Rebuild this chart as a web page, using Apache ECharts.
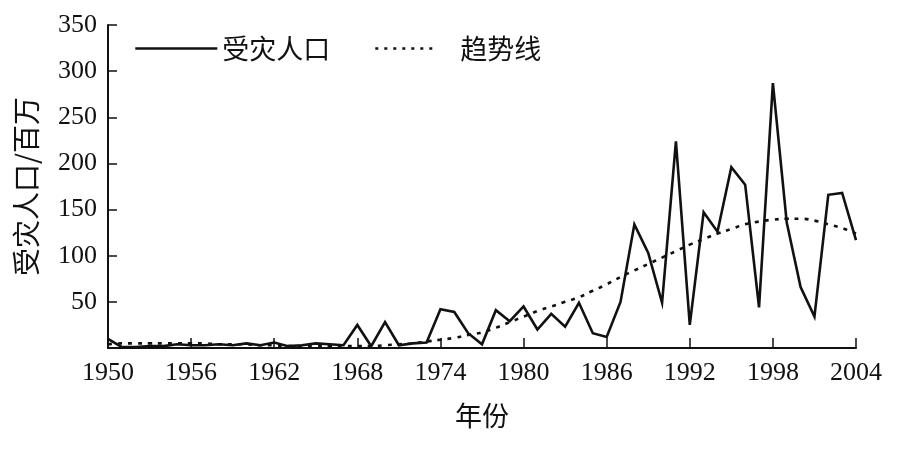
<!DOCTYPE html>
<html>
<head>
<meta charset="utf-8">
<script src="https://cdn.jsdelivr.net/npm/echarts@6/dist/echarts.min.js"></script>
<style>
html,body{margin:0;padding:0;background:#fff;}
#chart{width:898px;height:457px;}
</style>
</head>
<body>
<div id="chart"></div>
<script>
const years = [1950,1951,1952,1953,1954,1955,1956,1957,1958,1959,1960,1961,1962,1963,1964,1965,1966,1967,1968,1969,1970,1971,1972,1973,1974,1975,1976,1977,1978,1979,1980,1981,1982,1983,1984,1985,1986,1987,1988,1989,1990,1991,1992,1993,1994,1995,1996,1997,1998,1999,2000,2001,2002,2003,2004];
const affected = [10,1,1,2,2,4,3,3,4,3,5,3,6,2,3,5,4,3,25,2,28,3,5,6,42,39,16,4,41,29,45,20,37,23,49,16,12,50,134,103,49,224,25,147,126,196,177,44,287,136,66,34,166,168,117];
const trend = [4,5,5,5,5,5,5,5,4,4,4,3,3,2,2,2,2,2,2,2,3,4,5,7,9,11,14,17,22,28,34,40,45,50,55,62,69,77,84,91,98,105,112,118,124,129,134,137,139,140,140,138,134,130,124];
const yTicks = [0,50,100,150,200,250,300,350];
const xTicks = [1950,1956,1962,1968,1974,1980,1986,1992,1998,2004];

const serif = '"Liberation Serif","DejaVu Serif",serif';
const cjk = '"Noto Sans CJK SC","Noto Sans",sans-serif';

const chart = echarts.init(document.getElementById('chart'), null, {renderer:'canvas'});
chart.setOption({
  animation:false,
  backgroundColor:'#fff',
  grid:{left:108,right:42,top:25,bottom:109,containLabel:false,outerBoundsMode:'none'},
  legend:[
    {left:129,top:30,itemWidth:82,itemHeight:14,itemGap:0,
     itemStyle:{opacity:0},
     lineStyle:{color:'#111',width:2.6,type:'solid'},
     data:['受灾人口'],
     textStyle:{fontFamily:cjk,fontSize:27,color:'#111',padding:[0,0,0,0]}},
    {left:369,top:30,itemWidth:60,itemHeight:14,itemGap:0,
     itemStyle:{opacity:0},
     lineStyle:{color:'#111',width:2.6,type:[3,6]},
     data:['趋势线'],
     textStyle:{fontFamily:cjk,fontSize:27,color:'#111',padding:[0,0,0,20]}}
  ],
  xAxis:{
    type:'value',min:xTicks[0],max:xTicks[xTicks.length-1],interval:6,
    name:'年份',nameLocation:'middle',nameGap:54,
    nameTextStyle:{fontFamily:cjk,fontSize:27,color:'#111'},
    axisLine:{show:true,lineStyle:{color:'#111',width:2}},
    axisTick:{show:true,inside:true,length:10,lineStyle:{color:'#111',width:1.5}},
    axisLabel:{fontFamily:serif,fontSize:26,color:'#111',margin:12,formatter:v=>String(v)},
    splitLine:{show:false}
  },
  yAxis:{
    type:'value',min:yTicks[0],max:yTicks[yTicks.length-1],interval:50,
    name:'受灾人口/百万',nameLocation:'middle',nameGap:68,nameRotate:90,
    nameTextStyle:{fontFamily:cjk,fontSize:28,color:'#111'},
    axisLine:{show:true,lineStyle:{color:'#111',width:2}},
    axisTick:{show:true,inside:true,length:9,lineStyle:{color:'#111',width:1.5}},
    axisLabel:{fontFamily:serif,fontSize:26,color:'#111',margin:11,formatter:v=>v===0?'':String(v)},
    splitLine:{show:false}
  },
  series:[
    {name:'受灾人口',type:'line',symbol:'none',z:3,
     data:years.map((y,i)=>[y,affected[i]]),
     lineStyle:{color:'#111',width:2.6,join:'miter'},itemStyle:{color:'#111'}},
    {name:'趋势线',type:'line',symbol:'none',smooth:true,z:2,
     data:years.map((y,i)=>[y,trend[i]]),
     lineStyle:{color:'#111',width:2.6,type:[4,6]},itemStyle:{color:'#111'}}
  ]
});
</script>
</body>
</html>
